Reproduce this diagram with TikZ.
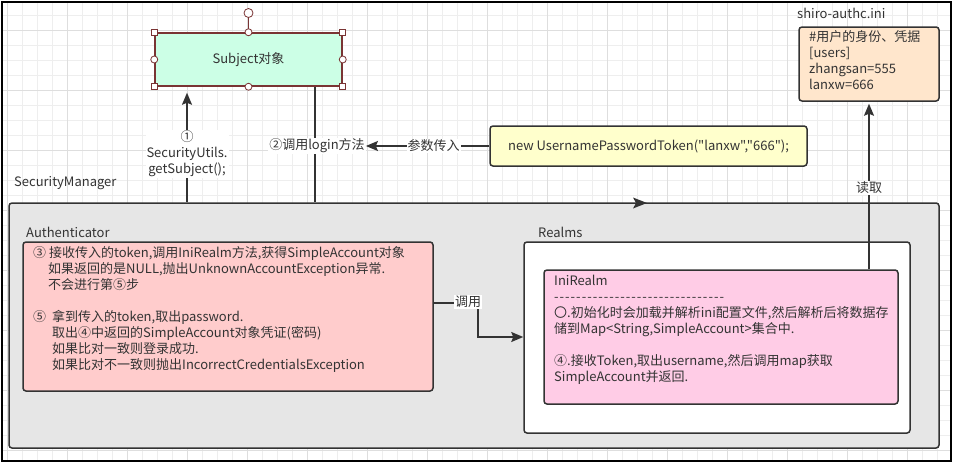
\documentclass[tikz,border=0pt]{standalone}
\usepackage{fontspec}
\newfontfamily\cjk{Noto Sans CJK SC}
\usetikzlibrary{arrows.meta}
\definecolor{ink}{HTML}{333333}
\definecolor{handle}{HTML}{7A3434}
\definecolor{mint}{HTML}{CCFFE6}
\definecolor{tokfill}{HTML}{FFFFCC}
\definecolor{inifill}{HTML}{FFE6CC}
\definecolor{smfill}{HTML}{E6E6E6}
\definecolor{authfill}{HTML}{FFCCCC}
\definecolor{realmfill}{HTML}{FFCCE6}
\definecolor{gridminor}{HTML}{EEEEEE}
\definecolor{gridmajor}{HTML}{DEDEDE}
\def\dsh{-\kern1pt}
\tikzset{
  box/.style={draw=ink, line width=1.5pt, rounded corners=3pt, inner sep=0pt},
  conn/.style={draw=ink, line width=1.5pt},
  arr/.style={conn, -{Stealth[length=12pt,width=10pt,inset=2pt]}},
  lbl/.style={fill=white, inner sep=1pt, text=ink},
  txt/.style={inner sep=0pt, text=ink, align=left},
  hsq/.style={draw=handle, fill=white, line width=0.8pt, minimum size=6pt, inner sep=0pt},
  hci/.style={draw=handle, fill=white, line width=0.8pt, circle, minimum size=7pt, inner sep=0pt}
}
\begin{document}
\begin{tikzpicture}[x=1pt,y=-1pt, font=\cjk\fontsize{13}{16}\selectfont, text=ink]
\useasboundingbox (0,0) rectangle (953,463);
\fill[white] (0,0) rectangle (953,463);
% grid
\begin{scope}
\clip (2,2) rectangle (951,461);
\foreach \x in {7,22,...,952} \draw[gridminor, line width=0.8pt] (\x,0) -- (\x,463);
\foreach \y in {0,15,...,463} \draw[gridminor, line width=0.8pt] (0,\y) -- (953,\y);
\foreach \x in {7,67,...,952} \draw[gridmajor, line width=0.8pt] (\x,0) -- (\x,463);
\foreach \y in {30,90,...,463} \draw[gridmajor, line width=0.8pt] (0,\y) -- (953,\y);
\end{scope}
\draw[black, line width=1.2pt] (2,2) rectangle (951,461);

% containers
\node[box, fill=smfill, minimum width=930pt, minimum height=245pt] (sm) at (474,325.5) {};
\node[box, fill=authfill, minimum width=410pt, minimum height=149pt] (auth) at (228,316.5) {};
\node[box, fill=white, minimum width=386pt, minimum height=191pt] (realms) at (717,337.5) {};
\node[box, fill=realmfill, minimum width=354pt, minimum height=134pt] (inirealm) at (721,337) {};
\node[box, fill=tokfill, minimum width=317pt, minimum height=40pt] (token) at (648.5,146) {new UsernamePasswordToken("lanxw","666");};
\node[box, fill=inifill, minimum width=140pt, minimum height=74pt] (ini) at (869,64) {};
\node[draw=handle, line width=1.5pt, fill=mint, inner sep=0pt, minimum width=187pt, minimum height=53pt] (subject) at (248.5,59.5) {Subject对象};

% selection handles
\draw[handle, line width=0.8pt] (subject.north) -- (248.5,13);
\node[hci, minimum size=9pt] (rot) at (248.5,13) {};
\foreach \a in {north west,north east,south west,south east} \node[hsq] at (subject.\a) {};
\foreach \a in {north,south,east,west} \node[hci] at (subject.\a) {};

% labels
\node[anchor=west, inner sep=0pt] (smlbl) at (14,183) {SecurityManager};
\node[anchor=west, inner sep=0pt] (authlbl) at (26,232) {Authenticator};
\node[anchor=west, inner sep=0pt] (realmslbl) at (538,232) {Realms};
\node[anchor=west, inner sep=0pt] (inilbl) at (797,13) {shiro-authc.ini};

% multi-line texts
\node[txt, anchor=north west] (initxt) at (809,30) {\#用户的身份、凭据\\{[users]}\\zhangsan=555\\lanxw=666};
\node[txt, anchor=north west] (authtxt) at (33,246.5) {③ 接收传入的token,调用IniRealm方法,获得SimpleAccount对象\\
\hspace*{15pt}如果返回的是NULL,抛出UnknownAccountException异常.\\
\hspace*{15pt}不会进行第⑤步\\[16pt]
⑤\ \ 拿到传入的token,取出password.\\
\hspace*{19pt}取出④中返回的SimpleAccount对象凭证(密码)\\
\hspace*{19pt}如果比对一致则登录成功.\\
\hspace*{19pt}如果比对不一致则抛出IncorrectCredentialsException};
\node[txt, anchor=north west] (realmtxt) at (554,274.5) {IniRealm\\
\dsh\dsh\dsh\dsh\dsh\dsh\dsh\dsh\dsh\dsh\dsh\dsh\dsh\dsh\dsh\dsh\dsh\dsh\dsh\dsh\dsh\dsh\dsh\dsh\dsh\dsh\dsh\dsh\dsh\dsh\dsh\\
〇.初始化时会加载并解析ini配置文件,然后解析后将数据存\\
储到Map<String,SimpleAccount>集合中.\\[16pt]
④.接收Token,取出username,然后调用map获取\\
SimpleAccount并返回.};

% connectors
\coordinate (x187) at (187,0);
\coordinate (x315) at (315,0);
\coordinate (x869) at (869,0);
\draw[arr, shorten >=6pt] (x187 |- sm.north) -- (x187 |- subject.south);
\node[lbl, align=center] (l1) at (187,154) {①\\SecurityUtils.\\getSubject();};

\draw[conn] (x315 |- subject.south) -- (x315 |- sm.north);
\node[lbl] (l2) at (317,146) {②调用login方法};
\draw[arr] (token.west) -- node[lbl, pos=0.45] (l3) {参数传入} (l2.east);

\draw[arr, shorten >=2pt] (x869 |- inirealm.north) -- (x869 |- ini.south);
\node[lbl] (l4) at (869,188) {读取};

\coordinate (cA) at (478,303);
\coordinate (cB) at (478,337);
\draw[arr] (auth.east |- cA) -- (cA) -- (cB) -- (realms.west |- cB);
\node[lbl] (l5) at (468,302) {调用};

% stray arrowhead on SecurityManager top edge
\fill[ink] (633,197.5) -- (647,203) -- (633,208.5) -- (636,203) -- cycle;
\end{tikzpicture}
\end{document}
